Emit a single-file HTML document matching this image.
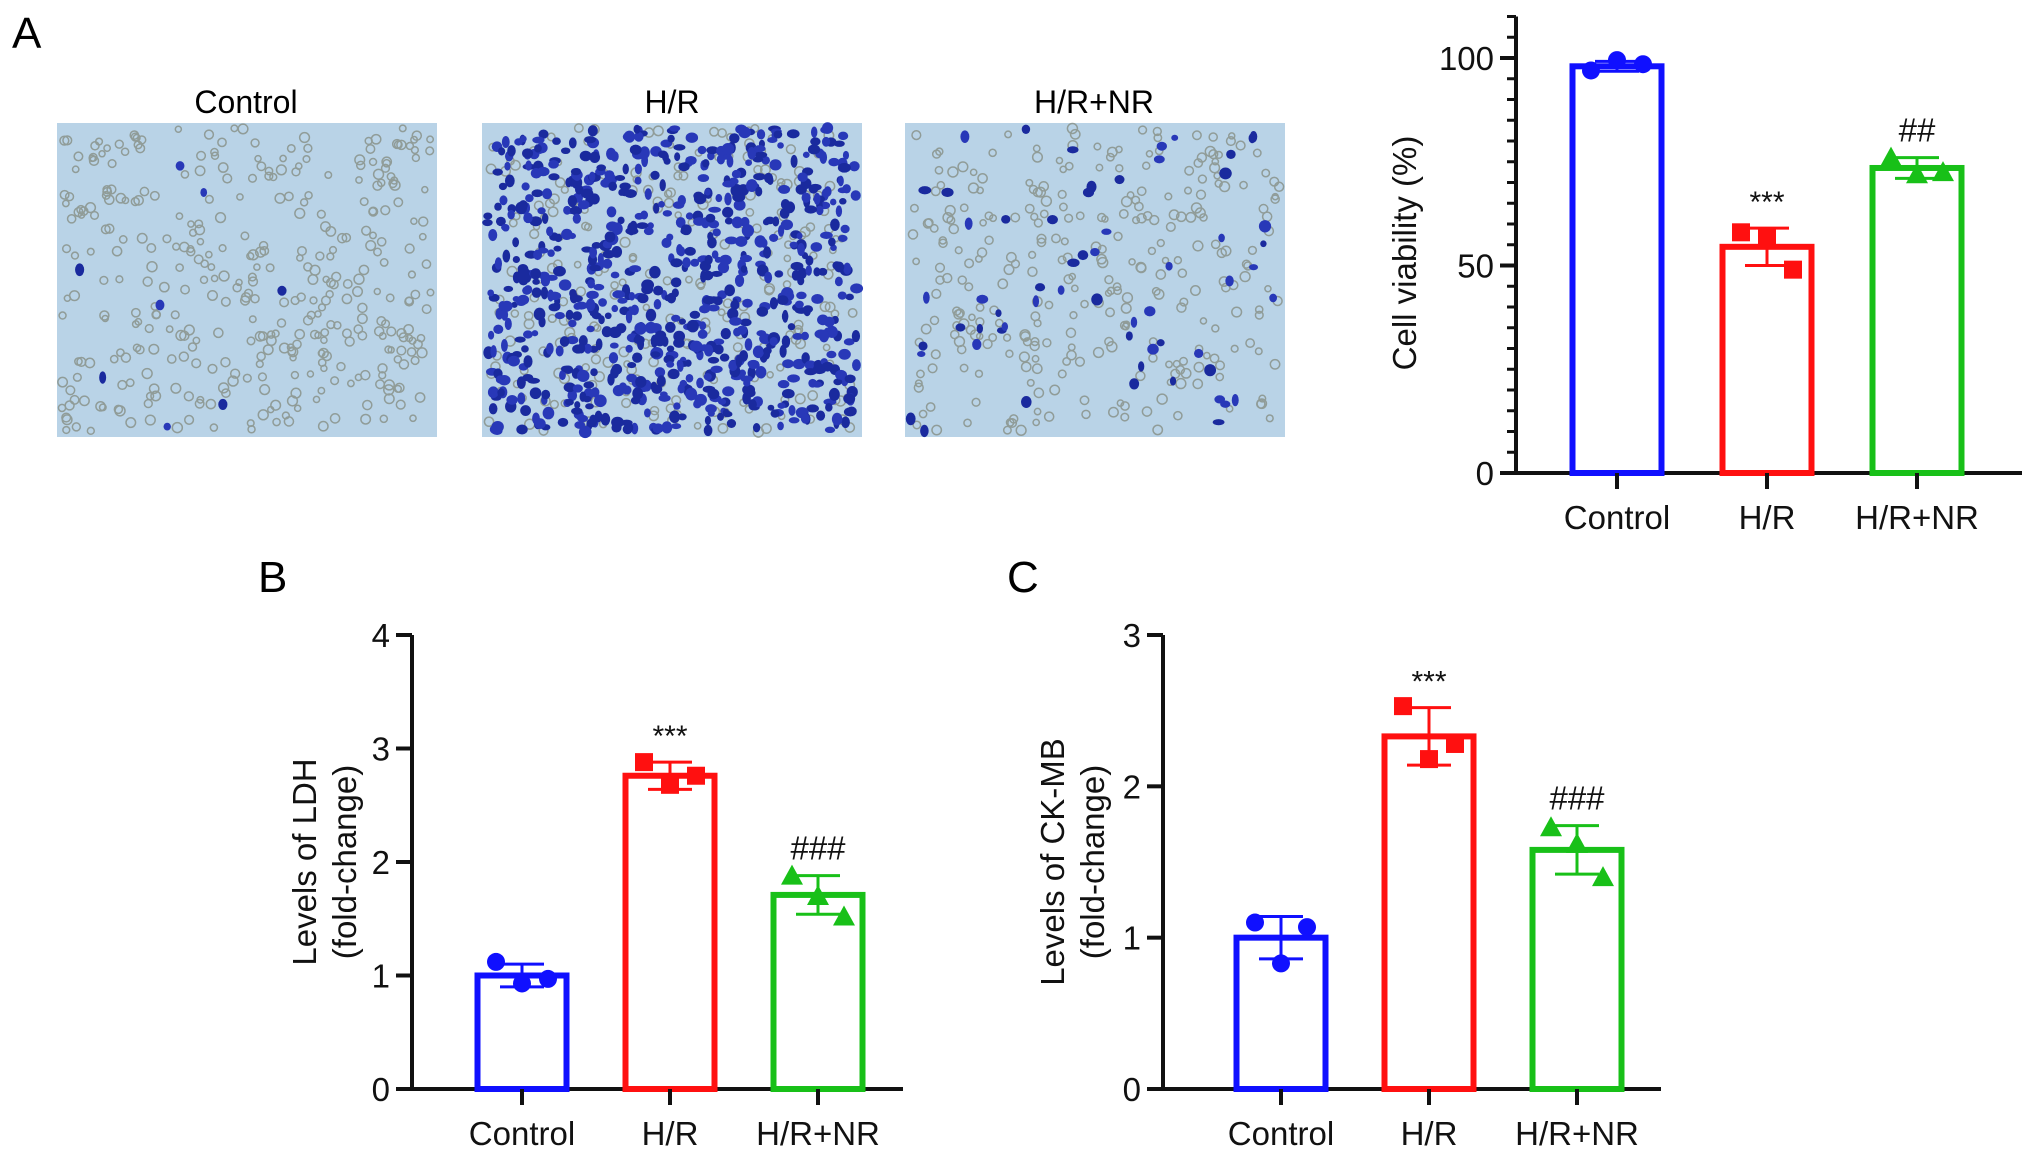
<!DOCTYPE html>
<html><head><meta charset="utf-8"><style>
html,body{margin:0;padding:0;background:#fff;}
svg{display:block;font-family:"Liberation Sans",Arial,sans-serif;}
</style></head><body>
<svg id="fig" width="2032" height="1156" viewBox="0 0 2032 1156">
<text x="12" y="48" font-size="44">A</text>
<text x="246" y="113" font-size="32" text-anchor="middle">Control</text>
<text x="672" y="113" font-size="32" text-anchor="middle">H/R</text>
<text x="1094" y="113" font-size="32" text-anchor="middle">H/R+NR</text>
<g id="imgs"></g>
<text x="258" y="592" font-size="44">B</text>
<text x="1007" y="592" font-size="44">C</text>
<g id="charts"></g>
</svg>
<script>
// Panel A: cell viability
const categories = ["Control", "H/R", "H/R+NR"];
const viabilityMeans = [98, 54.5, 73.5];
const viabilitySD = [1.2, 4.5, 2.5];
const viabilityPoints = [[97, 99.5, 98.5], [58, 57, 49], [76, 72, 72.5]];
const viabilityTicks = [0, 50, 100];
const viabilityStars = ["", "***", "##"];
// Panel B: LDH
const ldhMeans = [1.0, 2.76, 1.71];
const ldhSD = [0.1, 0.12, 0.17];
const ldhPoints = [[1.12, 0.93, 0.97], [2.88, 2.68, 2.76], [1.88, 1.70, 1.52]];
const ldhTicks = [0, 1, 2, 3, 4];
const ldhStars = ["", "***", "###"];
// Panel C: CK-MB
const ckmbMeans = [1.0, 2.33, 1.58];
const ckmbSD = [0.14, 0.19, 0.16];
const ckmbPoints = [[1.10, 0.83, 1.07], [2.53, 2.18, 2.28], [1.73, 1.62, 1.40]];
const ckmbTicks = [0, 1, 2, 3];
const ckmbStars = ["", "***", "###"];

const NS = "http://www.w3.org/2000/svg";
const colors = ["#1010ff", "#ff1010", "#18c018"];
const shapes = ["circle", "square", "triangle"];
function mk(parent, tag, attrs){const e=document.createElementNS(NS,tag);for(const k in attrs)e.setAttribute(k,attrs[k]);parent.appendChild(e);return e;}

function chart(cfg){
  const g = mk(document.getElementById('charts'),'g',{});
  
  
  const y = v => cfg.y0 - (v - 0) / cfg.max * (cfg.y0 - cfg.yTop);
  const ax = cfg.axisX;
  const yl = mk(g,'line',{x1:ax,y1:y(cfg.axisMax),x2:ax,y2:cfg.y0,stroke:'#111','stroke-width':4});
  
  
  if (cfg.minor){
    for(let v=0; v<=cfg.axisMax+0.001; v+=cfg.minor){
      mk(g,'line',{x1:ax-9,y1:y(v),x2:ax,y2:y(v),stroke:'#111','stroke-width':3});
    }
  }
  cfg.ticks.forEach(t=>{
    mk(g,'line',{x1:ax-16,y1:y(t),x2:ax,y2:y(t),stroke:'#111','stroke-width':4});
    const tx = mk(g,'text',{x:ax-22,y:y(t)+12,'font-size':33,'text-anchor':'end',fill:'#111'});
    tx.textContent = t;
    
    
  });
  const xl = mk(g,'line',{x1:ax-12,y1:cfg.y0,x2:cfg.axisEnd,y2:cfg.y0,stroke:'#111','stroke-width':4});
  
  
  const tg = mk(g,'text',{transform:`translate(${cfg.titleX},${cfg.titleY}) rotate(-90)`,'font-size':33,'text-anchor':'middle',fill:'#111'});
  
  
  cfg.title.forEach((line,i)=>{const ts=mk(tg,'tspan',{x:0,dy:i?40:0});ts.textContent=line;});
  categories.forEach((c,i)=>{
    const cx = cfg.bar0 + i*cfg.step, w = cfg.barW, col = colors[i];
    const top = y(cfg.means[i]);
    const r = mk(g,'rect',{x:cx-w/2+3,y:top,width:w-6,height:cfg.y0-top,fill:'none',stroke:col,'stroke-width':6});
    
    
    const eh = y(cfg.means[i]+cfg.sd[i]), el = y(cfg.means[i]-cfg.sd[i]);
    mk(g,'line',{x1:cx,y1:eh,x2:cx,y2:el,stroke:col,'stroke-width':3});
    mk(g,'line',{x1:cx-22,y1:eh,x2:cx+22,y2:eh,stroke:col,'stroke-width':3});
    mk(g,'line',{x1:cx-22,y1:el,x2:cx+22,y2:el,stroke:col,'stroke-width':3});
    cfg.points[i].forEach((p,j)=>{
      const px = cx + (j-1)*26, py = y(p);
      let m;
      if(shapes[i]==='circle') m = mk(g,'circle',{cx:px,cy:py,r:9,fill:col});
      else if(shapes[i]==='square') m = mk(g,'rect',{x:px-9,y:py-9,width:18,height:18,fill:col});
      else m = mk(g,'polygon',{points:`${px},${py-11} ${px+11},${py+9} ${px-11},${py+9}`,fill:col});
      
      
    });
    if(cfg.stars[i]){
      const st = mk(g,'text',{x:cx,y:eh-16,'font-size':cfg.stars[i][0]==='*'?30:33,'text-anchor':'middle',fill:'#111'});
      st.textContent = cfg.stars[i];
      
      
    }
    mk(g,'line',{x1:cx,y1:cfg.y0,x2:cx,y2:cfg.y0+16,stroke:'#111','stroke-width':4});
    const lb = mk(g,'text',{x:cx,y:cfg.y0+56,'font-size':33,'text-anchor':'middle',fill:'#111'});
    lb.textContent = c;
    
    
  });
}
chart({name:'cell-viability-chart',axisX:1516,y0:473,yTop:58,max:100,axisMax:110,minor:5,ticks:viabilityTicks,
  axisEnd:2022,bar0:1617,step:150,barW:95,means:viabilityMeans,sd:viabilitySD,points:viabilityPoints,stars:viabilityStars,
  title:["Cell viability (%)"],titleX:1416,titleY:253});
chart({name:'ldh-chart',axisX:412,y0:1089,yTop:635,max:4,axisMax:4,minor:0,ticks:ldhTicks,
  axisEnd:903,bar0:522,step:148,barW:95,means:ldhMeans,sd:ldhSD,points:ldhPoints,stars:ldhStars,
  title:["Levels of LDH","(fold-change)"],titleX:316,titleY:862});
chart({name:'ckmb-chart',axisX:1163,y0:1089,yTop:635,max:3,axisMax:3,minor:0,ticks:ckmbTicks,
  axisEnd:1661,bar0:1281,step:148,barW:95,means:ckmbMeans,sd:ckmbSD,points:ckmbPoints,stars:ckmbStars,
  title:["Levels of CK-MB","(fold-change)"],titleX:1064,titleY:862});

let seed = 7;
function rnd(){seed=(seed*16807)%2147483647;return seed/2147483647;}
const imgs=[{x:57,n:'control',blue:8,grey:380},{x:482,n:'hr',blue:800,grey:250},{x:905,n:'hr-nr',blue:60,grey:300}];
const ig=document.getElementById('imgs');
imgs.forEach(im=>{
  const g=mk(ig,'g',{});
  
  
  mk(g,'rect',{x:im.x,y:123,width:380,height:314,fill:'#b9d3e7'});
  for(let k=0;k<im.grey;k++) mk(g,'circle',{cx:im.x+5+rnd()*370,cy:128+rnd()*304,r:3+rnd()*2,fill:'none',stroke:'#909c98','stroke-width':1.5});
  for(let k=0;k<im.blue;k++) mk(g,'ellipse',{cx:im.x+5+rnd()*370,cy:128+rnd()*304,rx:3+rnd()*3.5,ry:3+rnd()*3.5,fill:rnd()<0.5?'#1a2a9e':'#2838b8'});
});
</script>
</body></html>
